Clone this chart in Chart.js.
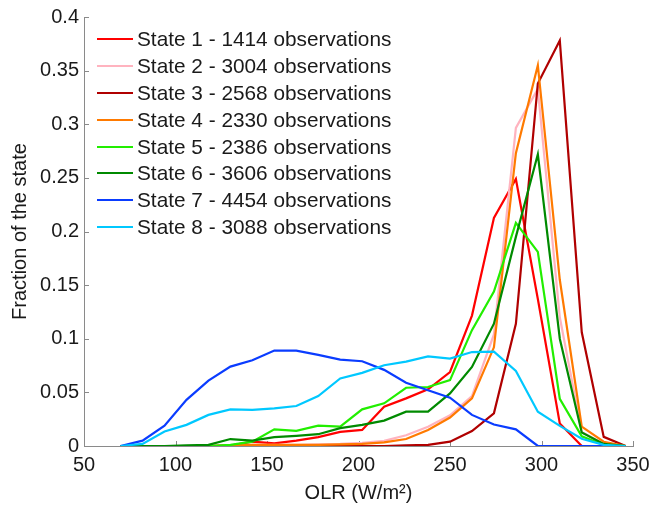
<!DOCTYPE html>
<html>
<head>
<meta charset="utf-8">
<script src="https://cdn.jsdelivr.net/npm/chart.js@4.4.0/dist/chart.umd.min.js"></script>
<style>
  html, body { margin: 0; padding: 0; background: #fff; }
  #wrap { position: relative; width: 660px; height: 506px; }
  #legend { position: absolute; left: 97px; top: 26px; font: 20.8px "Liberation Sans", Arial, sans-serif; color: #1a1a1a; }
  .row { display: flex; align-items: center; height: 26.8px; white-space: nowrap; }
  .swatch { width: 36px; height: 0; border-top: 2.5px solid; margin-right: 4px; }
</style>
</head>
<body>
<div id="wrap">
  <canvas id="chart" width="660" height="506"></canvas>
  <div id="legend"></div>
</div>
<script>
// OLR bin centres (W/m2)
const olrBins = [70, 82, 94, 106, 118, 130, 142, 154, 166, 178, 190, 202,
                 214, 226, 238, 250, 262, 274, 286, 298, 310, 322, 334, 346];

const stateNames = [
  'State 1 - 1414 observations',
  'State 2 - 3004 observations',
  'State 3 - 2568 observations',
  'State 4 - 2330 observations',
  'State 5 - 2386 observations',
  'State 6 - 3606 observations',
  'State 7 - 4454 observations',
  'State 8 - 3088 observations'
];
const stateColors = ['#ff0000', '#ffb3bf', '#b00000', '#ff7a00', '#22ee00', '#008a00', '#0a3cff', '#00c8ff'];

// fraction of each state falling in each bin
const state1 = [0, 0, 0, 0, 0, 0.0005, 0.004, 0.0025, 0.005, 0.0083, 0.0132, 0.015,
                0.0367, 0.0444, 0.0528, 0.069, 0.1216, 0.2126, 0.249, 0.137, 0.021, 0, 0, 0];
const state2 = [0, 0, 0, 0, 0, 0, 0.001, 0.001, 0.001, 0.0015, 0.002, 0.003,
                0.0048, 0.010, 0.018, 0.0287, 0.0466, 0.104, 0.2966, 0.333, 0.12, 0.013, 0.002, 0];
const state3 = [0, 0, 0, 0, 0, 0, 0, 0, 0, 0, 0, 0,
                0, 0.0005, 0.001, 0.004, 0.014, 0.0305, 0.114, 0.338, 0.378, 0.106, 0.0085, 0];
const state4 = [0, 0, 0, 0, 0, 0.0005, 0.001, 0.001, 0.001, 0.001, 0.0015, 0.002,
                0.0033, 0.0065, 0.015, 0.0265, 0.0444, 0.092, 0.273, 0.355, 0.155, 0.018, 0.004, 0];
const state5 = [0, 0, 0, 0, 0, 0.001, 0.004, 0.0155, 0.0142, 0.019, 0.0181, 0.0342,
                0.0398, 0.0543, 0.055, 0.0614, 0.108, 0.144, 0.208, 0.181, 0.044, 0.009, 0.001, 0];
const state6 = [0, 0, 0, 0.0005, 0.001, 0.0065, 0.005, 0.0083, 0.0095, 0.011, 0.0167, 0.0197,
                0.0237, 0.032, 0.032, 0.049, 0.0737, 0.114, 0.195, 0.272, 0.10, 0.0126, 0.002, 0];
const state7 = [0, 0.005, 0.019, 0.043, 0.061, 0.074, 0.080, 0.089, 0.089, 0.085, 0.0805, 0.079,
                0.071, 0.059, 0.052, 0.045, 0.029, 0.020, 0.0155, 0, 0, 0, 0, null];
const state8 = [0, 0.002, 0.0135, 0.0197, 0.029, 0.0342, 0.0336, 0.035, 0.0373, 0.0466, 0.063, 0.0682,
                0.0753, 0.0787, 0.0836, 0.0815, 0.0876, 0.088, 0.070, 0.032, 0.0188, 0.0068, 0.001, 0];
const stateValues = [state1, state2, state3, state4, state5, state6, state7, state8];

const xTickLabels = ['50', '100', '150', '200', '250', '300', '350'];
const yTickLabels = ['0', '0.05', '0.1', '0.15', '0.2', '0.25', '0.3', '0.35', '0.4'];

const axisColor = '#8a8a8a';
const textColor = '#1a1a1a';
const fontFamily = '"Liberation Sans", Arial, sans-serif';

// legend as html, MATLAB style inside the axes
const legendEl = document.getElementById('legend');
legendEl.innerHTML = stateNames.map((name, i) => `
  <div class="row"><span class="swatch" style="border-color:${stateColors[i]}"></span><span>${name}</span></div>
`).join('');

// MATLAB draws ticks pointing into the axes
const inwardTicks = {
  id: 'inwardTicks',
  beforeDatasetsDraw(chart) {
    const { ctx, chartArea, scales: { x, y } } = chart;
    ctx.save();
    ctx.strokeStyle = axisColor;
    ctx.lineWidth = 1;
    ctx.beginPath();
    x.ticks.forEach(t => {
      const px = Math.round(x.getPixelForValue(t.value)) + 0.5;
      ctx.moveTo(px, chartArea.bottom);
      ctx.lineTo(px, chartArea.bottom - 5);
    });
    y.ticks.forEach(t => {
      const py = Math.round(y.getPixelForValue(t.value)) + 0.5;
      ctx.moveTo(chartArea.left, py);
      ctx.lineTo(chartArea.left + 5, py);
    });
    ctx.stroke();
    ctx.restore();
  }
};

new Chart(document.getElementById('chart').getContext('2d'), {
  type: 'line',
  data: {
    datasets: stateValues.map((vals, i) => ({
      label: stateNames[i],
      data: olrBins.map((x, j) => ({ x: x, y: vals[j] })),
      borderColor: stateColors[i],
      backgroundColor: stateColors[i],
      borderWidth: 2.2,
      pointRadius: 0,
      tension: 0,
      fill: false,
      order: stateValues.length - 1 - i
    }))
  },
  options: {
    responsive: false,
    animation: false,
    devicePixelRatio: 1,
    events: [],
    layout: { padding: { left: 0, right: 27, top: 14, bottom: 0 } },
    plugins: { legend: { display: false }, tooltip: { enabled: false } },
    scales: {
      x: {
        type: 'linear',
        min: 50,
        max: 350,
        afterFit(scale) { scale.height = 60; },
        afterBuildTicks(scale) { scale.ticks = xTickLabels.map(s => ({ value: parseFloat(s) })); },
        grid: { display: false, drawTicks: false },
        border: { display: true, color: axisColor, width: 1 },
        ticks: {
          color: textColor,
          font: { family: fontFamily, size: 20 },
          padding: 7,
          maxRotation: 0,
          callback: (v, i) => xTickLabels[i]
        },
        title: {
          display: true,
          text: 'OLR (W/m\u00B2)',
          color: textColor,
          font: { family: fontFamily, size: 20 },
          padding: { top: 0, bottom: 1 }
        }
      },
      y: {
        type: 'linear',
        min: 0,
        max: 0.4,
        afterFit(scale) { scale.width = 84; },
        afterBuildTicks(scale) { scale.ticks = yTickLabels.map(s => ({ value: parseFloat(s) })); },
        grid: { display: false, drawTicks: false },
        border: { display: true, color: axisColor, width: 1 },
        ticks: {
          color: textColor,
          font: { family: fontFamily, size: 20 },
          padding: 5,
          callback: (v, i) => yTickLabels[i]
        },
        title: {
          display: true,
          text: 'Fraction of the state',
          color: textColor,
          font: { family: fontFamily, size: 20 },
          padding: { top: 8, bottom: 0 }
        }
      }
    }
  },
  plugins: [inwardTicks]
});
</script>
</body>
</html>
